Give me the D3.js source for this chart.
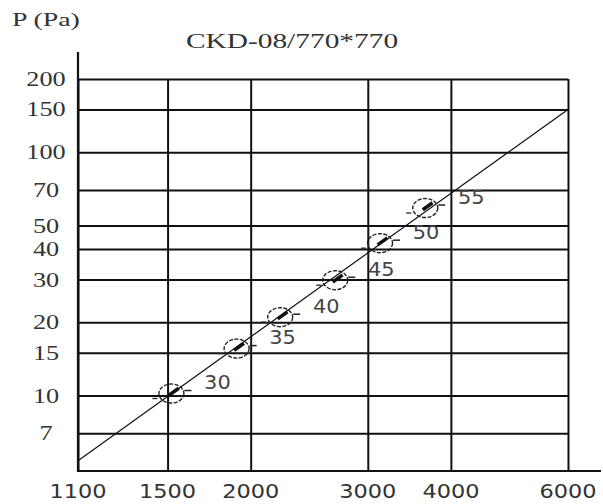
<!DOCTYPE html>
<html>
<head>
<meta charset="utf-8">
<script src="https://cdn.jsdelivr.net/npm/d3@7"></script>
<style>
body { margin: 0; background: #fff; }
</style>
</head>
<body>
<div id="chart"></div>
<script>
// tick values on both log axes
var xTicks = [1100, 1500, 2000, 3000, 4000, 6000];
var yTicks = [7, 10, 15, 20, 30, 40, 50, 70, 100, 150, 200];

// ends of the characteristic line
var lineQ = [1100, 6000];
var lineP = [5.4, 150];

// marked points on the line and their labels
var pointQ = [1520, 1905, 2215, 2680, 3130, 3660];
var pointP = [10.2, 15.6, 21, 29.8, 42.3, 59];
var pointLabel = ["30", "35", "40", "45", "50", "55"];

var width = 603, height = 504;

var svg = d3.select("#chart").append("svg")
    .attr("width", width)
    .attr("height", height);

var x = d3.scaleLog().domain([1100, 6000]).range([78, 568]);
var y = d3.scaleLog().domain([4.9, 200]).range([471, 79]);

var plotLeft = x(1100), plotRight = x(6000),
    plotBottom = y.range()[0], plotTop = y(200);

// grid lines through the library axes, labels drawn separately
var gx = svg.append("g")
    .attr("transform", "translate(0," + plotBottom + ")")
    .call(d3.axisBottom(x).tickValues(xTicks).tickSize(-(plotBottom - plotTop)).tickSizeOuter(0).tickFormat(""));
gx.select(".domain").remove();
gx.selectAll("line").attr("stroke", "#111").attr("stroke-width", 2);

var gy = svg.append("g")
    .attr("transform", "translate(" + plotLeft + ",0)")
    .call(d3.axisLeft(y).tickValues(yTicks).tickSize(-(plotRight - plotLeft)).tickSizeOuter(0).tickFormat(""));
gy.select(".domain").remove();
gy.selectAll("line").attr("stroke", "#111").attr("stroke-width", 2);

// axis lines: y goes above the frame, x runs to the edge
svg.append("line")
    .attr("x1", plotLeft).attr("x2", plotLeft)
    .attr("y1", 52).attr("y2", plotBottom + 1)
    .attr("stroke", "#111").attr("stroke-width", 2.2);
svg.append("line")
    .attr("x1", plotLeft - 1).attr("x2", 601)
    .attr("y1", plotBottom).attr("y2", plotBottom)
    .attr("stroke", "#111").attr("stroke-width", 2.2);

// tick labels (the picture is stretched sideways, so is the text)
svg.selectAll(".ylab")
    .data(yTicks)
    .enter().append("text")
    .attr("class", "ylab")
    .attr("transform", d => "translate(46," + y(d) + ") scale(1.25,1)")
    .attr("text-anchor", "middle")
    .attr("dominant-baseline", "central")
    .style("font-family", "'Liberation Serif', serif")
    .style("font-size", "21px")
    .attr("fill", "#333")
    .text(d => d);

svg.selectAll(".xlab")
    .data(xTicks)
    .enter().append("text")
    .attr("class", "xlab")
    .attr("transform", d => "translate(" + x(d) + ",492) scale(1.18,1)")
    .attr("text-anchor", "middle")
    .attr("dominant-baseline", "central")
    .style("font-family", "'DejaVu Sans', sans-serif")
    .style("font-size", "19px")
    .attr("fill", "#333")
    .text(d => d);

// title and unit
svg.append("text")
    .attr("transform", "translate(292,48) scale(1.4,1)")
    .attr("text-anchor", "middle")
    .style("font-family", "'Liberation Serif', serif")
    .style("font-size", "21px")
    .attr("fill", "#333")
    .text("CKD-08/770*770");

svg.append("text")
    .attr("transform", "translate(12,26) scale(1.55,1)")
    .style("font-family", "'Liberation Serif', serif")
    .style("font-size", "18px")
    .attr("fill", "#333")
    .text("P (Pa)");

// the characteristic line
var line = d3.line()
    .x(d => x(d[0]))
    .y(d => y(d[1]));

svg.append("path")
    .datum(d3.zip(lineQ, lineP))
    .attr("d", line)
    .attr("fill", "none")
    .attr("stroke", "#111")
    .attr("stroke-width", 1.2);

var angle = Math.atan2(y(lineP[1]) - y(lineP[0]), x(lineQ[1]) - x(lineQ[0])) * 180 / Math.PI;

var points = d3.zip(pointQ, pointP, pointLabel);

var marks = svg.selectAll(".mark")
    .data(points)
    .enter().append("g")
    .attr("class", "mark")
    .attr("transform", d => "translate(" + x(d[0]) + "," + y(d[1]) + ")");

marks.append("ellipse")
    .attr("rx", 12.5).attr("ry", 9.5)
    .attr("fill", "none")
    .attr("stroke", "#222")
    .attr("stroke-width", 1.4)
    .attr("stroke-dasharray", "4,1.5");

marks.append("line")
    .attr("transform", "rotate(" + angle + ")")
    .attr("x1", -3).attr("x2", 9)
    .attr("stroke", "#111").attr("stroke-width", 3.5);

marks.append("line")
    .attr("x1", -19).attr("x2", -14)
    .attr("y1", 5).attr("y2", 5)
    .attr("stroke", "#222").attr("stroke-width", 1.3);

marks.append("line")
    .attr("x1", 13).attr("x2", 20)
    .attr("y1", -3).attr("y2", -3)
    .attr("stroke", "#222").attr("stroke-width", 1.5);

marks.append("text")
    .attr("transform", "translate(46,-11) scale(1.1,1)")
    .attr("text-anchor", "middle")
    .attr("dominant-baseline", "central")
    .style("font-family", "'DejaVu Sans', sans-serif")
    .style("font-size", "19px")
    .attr("fill", "#444")
    .text(d => d[2]);
</script>
</body>
</html>
